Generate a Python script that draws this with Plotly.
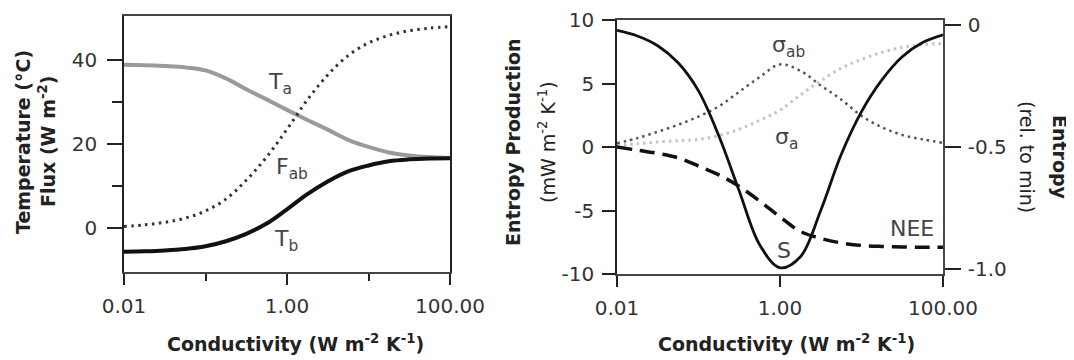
import plotly.graph_objects as go

# ---------------- data ----------------
conductivity = [0.01, 0.0178, 0.0316, 0.0562, 0.1, 0.178, 0.316, 0.562, 1.0,
                1.78, 3.16, 5.62, 10.0, 17.8, 31.6, 56.2, 100.0]

# left panel: temperature (degC) / flux (W m-2)
T_a = [38.8, 38.7, 38.5, 38.2, 37.5, 35.6, 33.0, 30.6, 28.1, 25.7, 23.4, 21.0, 19.3, 18.0, 17.3, 16.9, 16.7]
T_b = [-5.6, -5.5, -5.3, -4.95, -4.3, -3.1, -1.35, 1.1, 4.5, 8.1, 11.1, 13.5, 14.9, 15.9, 16.35, 16.55, 16.6]
F_ab = [0.4, 0.8, 1.4, 2.4, 4.1, 6.9, 11.4, 16.9, 23.5, 30.5, 36.4, 41.0, 44.0, 45.8, 46.9, 47.5, 47.9]

# right panel: entropy production (mW m-2 K-1), left axis
sigma_ab = [0.3, 0.7, 1.2, 1.75, 2.4, 3.2, 4.35, 5.5, 6.5, 6.0, 4.85, 3.75, 2.45, 1.55, 0.95, 0.6, 0.33]
sigma_a = [0.15, 0.25, 0.4, 0.5, 0.6, 0.9, 1.4, 2.1, 2.9, 4.1, 5.2, 6.2, 6.9, 7.45, 7.85, 8.05, 8.15]
NEE = [0.0, -0.25, -0.5, -0.85, -1.5, -2.2, -3.1, -4.25, -5.5, -6.65, -7.2, -7.55, -7.75, -7.83, -7.87, -7.9, -7.9]
# right panel: entropy (relative to min), right axis
S = [-0.022, -0.045, -0.085, -0.155, -0.27, -0.455, -0.68, -0.9, -0.995, -0.95, -0.76, -0.532, -0.355,
     -0.225, -0.13, -0.072, -0.04]

x_tickvals = [0.01, 1, 100]
x_ticktext = ["0.01", "1.00", "100.00"]
x_minor = [0.1, 10]
left_y_ticks = [0, 20, 40]
left_y_minor = [10, 30]
right_y_ticks = [-10, -5, 0, 5, 10]
right_y_ticktext = ["-10", "-5", "0", "5", "10"]
entropy_ticks = [-1.0, -0.5, 0]
entropy_ticktext = ["-1.0", "-0.5", "0"]

# ---------------- figure ----------------
# the page body adds an 8 px margin at the top-left, so the figure is drawn 8 px
# smaller and all layout positions below are given in window pixels
OFF = 8
W, H = 1074 - OFF, 360 - OFF
FONT = "DejaVu Sans"
INK = "#222222"


def px(x):
    return (x - OFF) / W


def py(y):
    return 1 - (y - OFF) / H


fig = go.Figure()

fig.add_trace(go.Scatter(x=conductivity, y=T_a, mode="lines", line=dict(color="#9a9a9a", width=4, shape="spline"),
                         xaxis="x", yaxis="y", showlegend=False))
fig.add_trace(go.Scatter(x=conductivity, y=F_ab, mode="lines",
                         line=dict(color="#333333", width=3, dash="2.5px,4.5px", shape="spline"),
                         xaxis="x", yaxis="y", showlegend=False))
fig.add_trace(go.Scatter(x=conductivity, y=T_b, mode="lines", line=dict(color="#111111", width=4, shape="spline"),
                         xaxis="x", yaxis="y", showlegend=False))

fig.add_trace(go.Scatter(x=conductivity, y=sigma_a, mode="lines",
                         line=dict(color="#c4c4c4", width=3, dash="2.5px,4px", shape="spline"),
                         xaxis="x2", yaxis="y2", showlegend=False))
fig.add_trace(go.Scatter(x=conductivity, y=sigma_ab, mode="lines",
                         line=dict(color="#555555", width=2.5, dash="2.5px,4px", shape="spline"),
                         xaxis="x2", yaxis="y2", showlegend=False))
fig.add_trace(go.Scatter(x=conductivity, y=NEE, mode="lines",
                         line=dict(color="#111111", width=3.5, dash="15px,8px", shape="spline"),
                         xaxis="x2", yaxis="y2", showlegend=False))
fig.add_trace(go.Scatter(x=conductivity, y=S, mode="lines", line=dict(color="#111111", width=2.8, shape="spline"),
                         xaxis="x2", yaxis="y3", showlegend=False))

tickfont = dict(family=FONT, size=20, color="#333333")
common_x = dict(type="log", range=[-2, 2], tickmode="array", tickvals=x_tickvals, ticktext=x_ticktext,
                ticks="outside", ticklen=11, tickwidth=1.5, tickcolor=INK, showline=True, linecolor="#444444",
                linewidth=1.5, mirror=True, showgrid=False, zeroline=False, tickfont=tickfont,
                ticklabelstandoff=4, automargin=False)

fig.update_layout(
    width=W, height=H,
    margin=dict(l=0, r=0, t=0, b=0, pad=0, autoexpand=False),
    paper_bgcolor="white", plot_bgcolor="white",
    xaxis=dict(domain=[px(124), px(450)], anchor="y",
               minor=dict(tickmode="array", tickvals=x_minor, ticks="outside", ticklen=7, tickwidth=1.5,
                          tickcolor=INK, showgrid=False),
               **common_x),
    yaxis=dict(domain=[py(272), py(16)], anchor="x", range=[-10.4, 50.4], tickmode="array",
               tickvals=left_y_ticks, ticks="outside", ticklen=15, tickwidth=1.5, tickcolor=INK,
               minor=dict(tickmode="array", tickvals=left_y_minor, ticks="outside", ticklen=10, tickwidth=1.5,
                          tickcolor=INK, showgrid=False),
               showline=True, linecolor="#222222", linewidth=1.5, mirror=True, showgrid=False, zeroline=False,
               tickfont=tickfont, ticklabelstandoff=6, automargin=False),
    xaxis2=dict(domain=[px(617), px(943)], anchor="y2", **common_x),
    yaxis2=dict(domain=[py(274), py(20)], anchor="x2", range=[-10, 10], tickmode="array",
                tickvals=right_y_ticks, ticktext=right_y_ticktext, ticks="outside", ticklen=13, tickwidth=1.5,
                tickcolor=INK, showline=True, linecolor="#222222", linewidth=1.5, mirror=True, showgrid=False,
                zeroline=False, tickfont=tickfont, ticklabelstandoff=4, automargin=False),
    yaxis3=dict(overlaying="y2", side="right", anchor="x2", range=[-1.0205, 0.0205], tickmode="array",
                tickvals=entropy_ticks, ticktext=entropy_ticktext, ticks="outside", ticklen=16, tickwidth=1.5,
                tickcolor=INK, showline=True, linecolor="#444444", linewidth=1.5, showgrid=False, zeroline=False,
                tickfont=tickfont, ticklabelstandoff=3, automargin=False),
)

annotations = []


def ann(text, x, y, size=20, bold=True, angle=0, xanchor="center", yanchor="middle", color=INK, family=FONT):
    t = f"<b>{text}</b>" if bold else text
    annotations.append(dict(text=t, x=px(x), y=py(y), xref="paper", yref="paper", showarrow=False,
                            textangle=angle, xanchor=xanchor, yanchor=yanchor,
                            font=dict(family=family, size=size, color=color)))


# axis titles
ann("Temperature (°C)", 23, 142, size=19, angle=-90)
ann("Flux (W m<sup>-2</sup>)", 47, 142, size=19, angle=-90)
ann("Entropy Production", 513, 142, size=19, angle=-90)
ann("(mW m<sup>-2</sup> K<sup>-1</sup>)", 547, 142, size=19, bold=False, angle=-90)
ann("Entropy", 1060, 157, size=19, angle=90)
ann("(rel. to min)", 1027, 157, size=19, bold=False, angle=90)
ann("Conductivity (W m<sup>-2</sup> K<sup>-1</sup>)", 295, 343, size=19)
ann("Conductivity (W m<sup>-2</sup> K<sup>-1</sup>)", 786, 343, size=19)

# curve labels
lab = "#444444"
ann("T<sub>a</sub>", 266, 67, size=22, bold=False, xanchor="left", yanchor="top", color=lab)
ann("F<sub>ab</sub>", 274, 152, size=22, bold=False, xanchor="left", yanchor="top", color=lab)
ann("T<sub>b</sub>", 272, 224, size=22, bold=False, xanchor="left", yanchor="top", color=lab)
ann("σ<sub>ab</sub>", 770, 30, size=22, bold=False, xanchor="left", yanchor="top", color=lab)
ann("σ<sub>a</sub>", 773, 122, size=22, bold=False, xanchor="left", yanchor="top", color=lab)
ann("NEE", 912, 228, size=22, bold=False, color=lab)
ann("S", 784, 250, size=22, bold=False, color=lab)

fig.update_layout(annotations=annotations)

fig.write_html("out.html")
